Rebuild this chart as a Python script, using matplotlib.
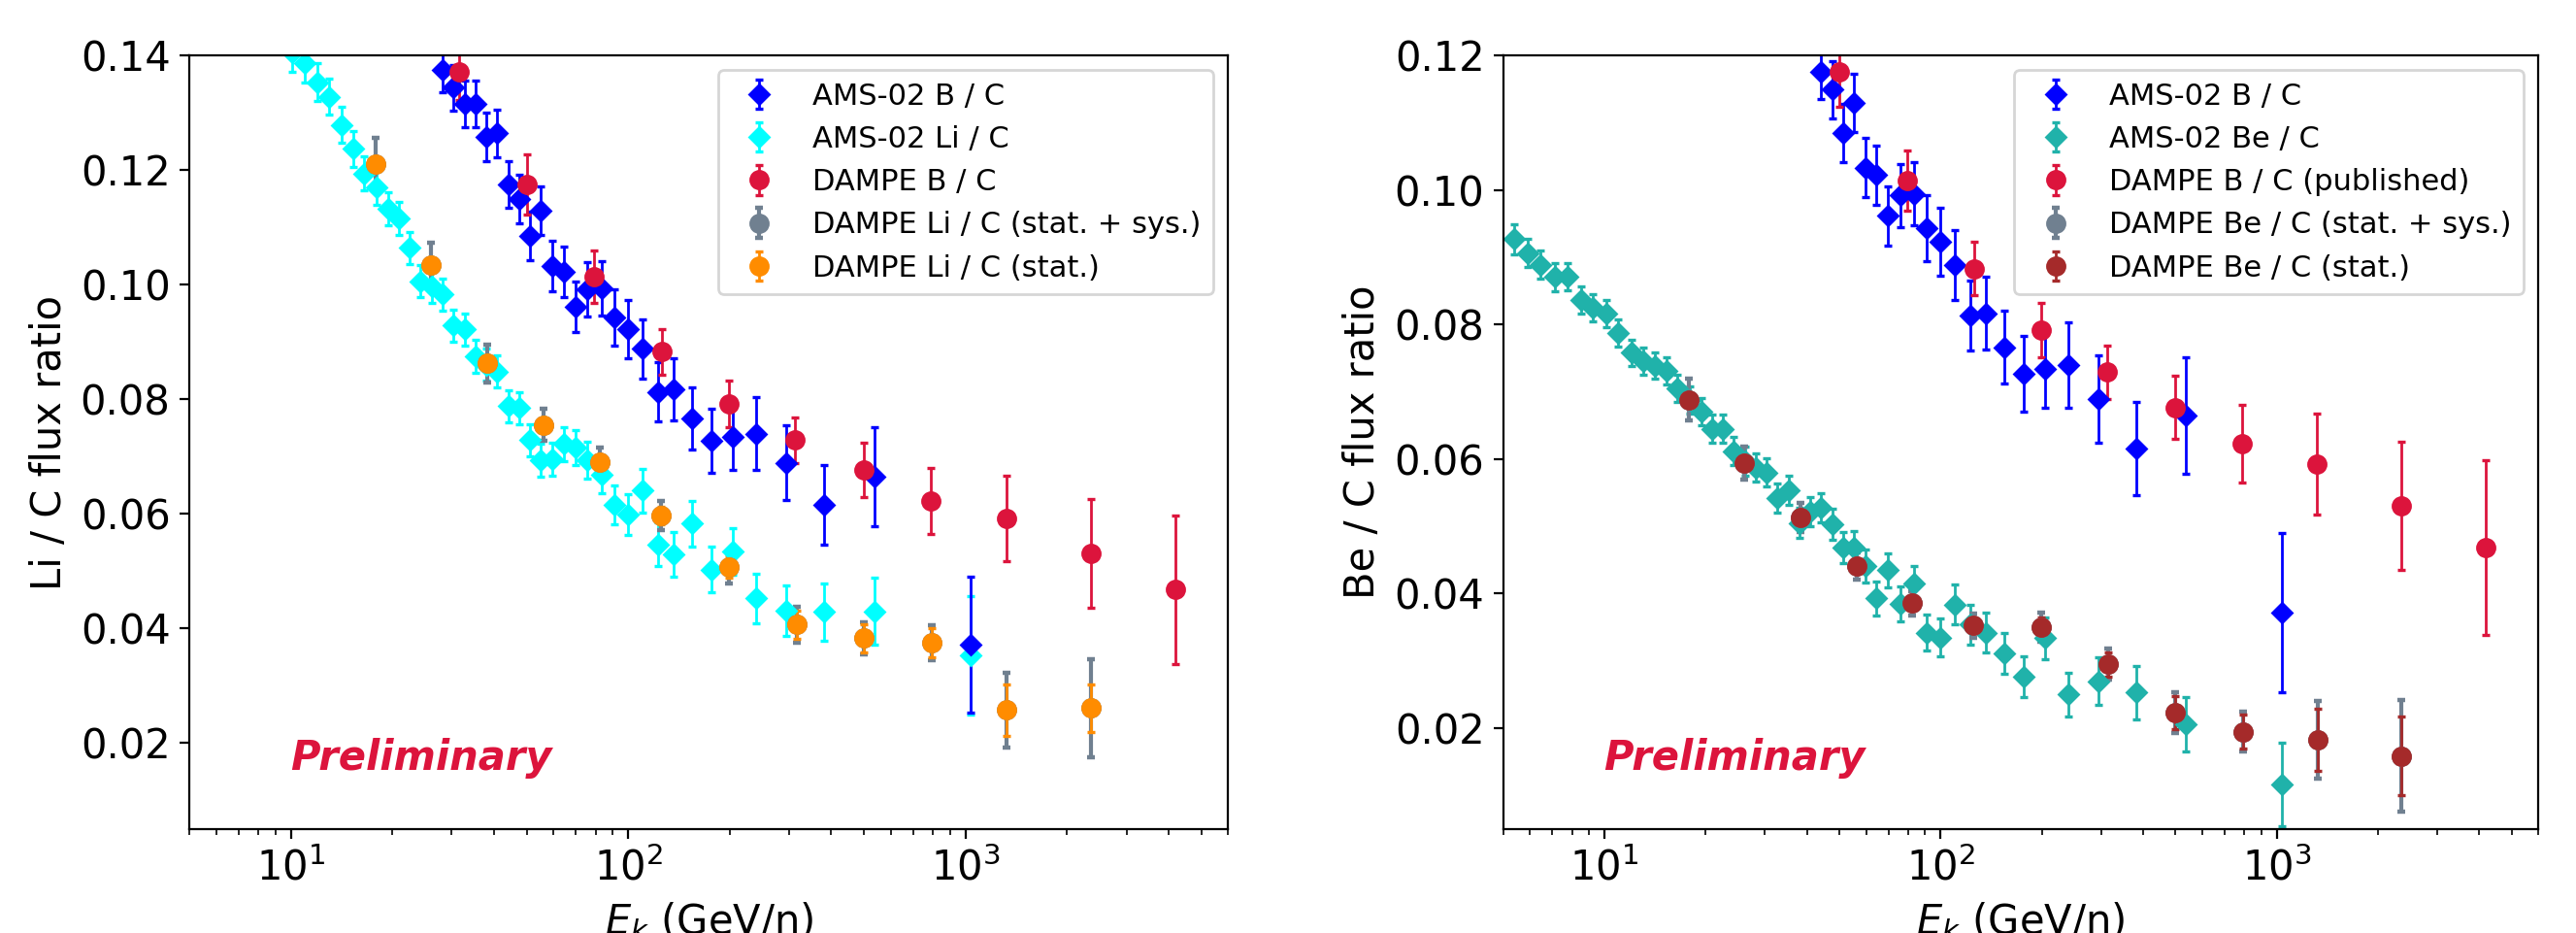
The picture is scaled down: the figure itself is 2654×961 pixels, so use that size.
import numpy as np
import matplotlib
matplotlib.use("Agg")
import matplotlib.pyplot as plt

# AMS-02 B/C (shared by both panels)
ams_bc_E = [28.2, 30.4, 32.7, 35.3, 38.0, 40.9, 44.1, 47.6, 51.2, 55.1, 59.6, 64.3, 69.7, 75.8,
            83.4, 90.9, 100.1, 110.4, 122.4, 136.5, 154.5, 176.3, 204.6, 239.9, 294.9, 381.6, 537, 1038]
ams_bc = [0.1375, 0.1344, 0.1315, 0.1315, 0.1258, 0.1264, 0.1175, 0.1149, 0.1085, 0.1129, 0.1033,
          0.1022, 0.0962, 0.0992, 0.0994, 0.0943, 0.0923, 0.0888, 0.0813, 0.0817, 0.0766, 0.0727,
          0.0734, 0.0740, 0.0689, 0.0616, 0.0665, 0.0372]
ams_bc_err = [0.0039, 0.0040, 0.0041, 0.0041, 0.0042, 0.0042, 0.0040, 0.0042, 0.0043, 0.0043, 0.0044,
              0.0044, 0.0044, 0.0047, 0.0047, 0.0049, 0.0051, 0.0052, 0.0052, 0.0054, 0.0054, 0.0056,
              0.0058, 0.0064, 0.0065, 0.0069, 0.0087, 0.0118]

# AMS-02 Li/C
ams_li_E = [10.1, 11.0, 12.0, 13.0, 14.1, 15.3, 16.5, 17.9, 19.4, 20.9, 22.5, 24.2, 26.2, 28.2,
            30.4, 32.7, 35.3, 38.0, 40.9, 44.1, 47.6, 51.2, 55.1, 59.6, 64.3, 69.7, 75.8, 83.4,
            90.9, 100.1, 110.4, 122.4, 136.5, 154.5, 176.3, 204.6, 239.9, 294.9, 381.6, 537, 1038]
ams_li = [0.1405, 0.1386, 0.1353, 0.1328, 0.1279, 0.1237, 0.1194, 0.1169, 0.1132, 0.1116, 0.1064,
          0.1006, 0.0997, 0.0983, 0.0929, 0.0922, 0.0875, 0.0860, 0.0848, 0.0788, 0.0785, 0.0729,
          0.0694, 0.0695, 0.0722, 0.0716, 0.0694, 0.0669, 0.0616, 0.0599, 0.0641, 0.0547, 0.0529,
          0.0583, 0.0503, 0.0535, 0.0453, 0.0432, 0.0429, 0.0430, 0.0353]
ams_li_err = [0.0034, 0.0033, 0.0033, 0.0032, 0.0031, 0.0031, 0.0030, 0.0030, 0.0029, 0.0029, 0.0028,
              0.0028, 0.0028, 0.0028, 0.0028, 0.0028, 0.0028, 0.0028, 0.0028, 0.0028, 0.0028, 0.0028,
              0.0029, 0.0029, 0.0030, 0.0031, 0.0032, 0.0033, 0.0034, 0.0036, 0.0038, 0.0038, 0.0039,
              0.0040, 0.0040, 0.0041, 0.0043, 0.0044, 0.0050, 0.0058, 0.0103]

# AMS-02 Be/C
ams_be_E = [5.37, 5.89, 6.45, 7.11, 7.75, 8.50, 9.25, 10.1, 11.0, 12.0, 13.0, 14.1, 15.3, 16.5,
            17.9, 19.4, 20.9, 22.5, 24.2, 26.2, 28.2, 30.4, 32.7, 35.3, 38.0, 40.9, 44.1, 47.6,
            51.2, 55.1, 59.6, 64.3, 69.7, 75.8, 83.4, 90.9, 100.1, 110.4, 122.4, 136.5, 154.5,
            176.3, 204.6, 239.9, 294.9, 381.6, 537, 1038]
ams_be = [0.0927, 0.0906, 0.0889, 0.0871, 0.0871, 0.0837, 0.0825, 0.0816, 0.0787, 0.0758, 0.0746,
          0.0739, 0.0731, 0.0705, 0.0688, 0.0671, 0.0645, 0.0645, 0.0612, 0.0597, 0.0587, 0.0580,
          0.0542, 0.0554, 0.0505, 0.0522, 0.0528, 0.0503, 0.0469, 0.0469, 0.0441, 0.0393, 0.0435,
          0.0385, 0.0415, 0.0342, 0.0335, 0.0384, 0.0354, 0.0342, 0.0311, 0.0277, 0.0334, 0.0250,
          0.0270, 0.0253, 0.0206, 0.0117]
ams_be_err = [0.0022, 0.0021, 0.0021, 0.0021, 0.0020, 0.0020, 0.0020, 0.0020, 0.0020, 0.0020, 0.0020,
              0.0020, 0.0020, 0.0020, 0.0020, 0.0020, 0.0021, 0.0021, 0.0021, 0.0021, 0.0021, 0.0021,
              0.0022, 0.0022, 0.0022, 0.0022, 0.0022, 0.0023, 0.0023, 0.0024, 0.0024, 0.0025, 0.0025,
              0.0026, 0.0026, 0.0027, 0.0028, 0.0030, 0.0030, 0.0030, 0.0030, 0.0030, 0.0031, 0.0033,
              0.0035, 0.0040, 0.0041, 0.0062]

# DAMPE B/C (published)
dampe_bc_E = [31.6, 50.1, 79.4, 125.6, 198.6, 313, 499, 790, 1320, 2350, 4184]
dampe_bc = [0.1372, 0.1175, 0.1014, 0.0883, 0.0792, 0.0729, 0.0677, 0.0623, 0.0592, 0.0531, 0.0468]
dampe_bc_err = [0.0050, 0.0052, 0.0045, 0.0040, 0.0040, 0.0040, 0.0047, 0.0058, 0.0075, 0.0095, 0.0130]

# DAMPE Li/C and Be/C (preliminary)
dampe_E = [17.8, 26.0, 38.3, 56.2, 82.5, 125.3, 198.6, 315.8, 500.4, 792, 1326, 2355]
dampe_li = [0.1210, 0.1034, 0.0863, 0.0755, 0.0690, 0.0597, 0.0507, 0.0407, 0.0383, 0.0375, 0.0258, 0.0261]
dampe_li_stat = [0.0010, 0.0010, 0.0011, 0.0012, 0.0013, 0.0015, 0.0019, 0.0025, 0.0024, 0.0025, 0.0045, 0.0042]
dampe_li_tot = [0.0046, 0.0039, 0.0033, 0.0028, 0.0026, 0.0025, 0.0028, 0.0031, 0.0028, 0.0031, 0.0065, 0.0085]
dampe_be = [0.0688, 0.0594, 0.0513, 0.0441, 0.0386, 0.0353, 0.0350, 0.0295, 0.0223, 0.0195, 0.0183, 0.0159]
dampe_be_stat = [0.0008, 0.0008, 0.0009, 0.0010, 0.0011, 0.0012, 0.0015, 0.0018, 0.0025, 0.0025, 0.0046, 0.0058]
dampe_be_tot = [0.0031, 0.0025, 0.0022, 0.0020, 0.0018, 0.0018, 0.0022, 0.0023, 0.0030, 0.0030, 0.0058, 0.0083]

fig = plt.figure(figsize=(13.27, 4.805), dpi=200)
ax1 = fig.add_axes([0.0735, 0.1113, 0.4032, 0.8293])
ax2 = fig.add_axes([0.5836, 0.1113, 0.4017, 0.8293])

eb = dict(capsize=1.4, capthick=1.2, elinewidth=1.0, linestyle='none')


def panel(ax, sec_E, sec, sec_err, sec_col, sec_lab, d, d_stat, d_tot, d_col, d_lab, bc_lab, ylab, ylim):
    h_sec = ax.errorbar(sec_E, sec, yerr=sec_err, fmt='D', ms=5, color=sec_col, **eb)
    h_bc = ax.errorbar(ams_bc_E, ams_bc, yerr=ams_bc_err, fmt='D', ms=5, color='blue', **eb)
    h_dbc = ax.errorbar(dampe_bc_E, dampe_bc, yerr=dampe_bc_err, fmt='o', ms=6.5, color='crimson', **eb)
    h_tot = ax.errorbar(dampe_E, d, yerr=d_tot, fmt='o', ms=6.5, color='slategray',
                        capsize=1.4, capthick=1.6, elinewidth=1.5, linestyle='none')
    h_stat = ax.errorbar(dampe_E, d, yerr=d_stat, fmt='o', ms=6.5, color=d_col, **eb)
    ax.set_xscale('log')
    ax.set_xlim(5, 6000)
    ax.set_ylim(*ylim)
    ax.set_xlabel(r'$E_k$ (GeV/n)', fontsize=15)
    ax.set_ylabel(ylab, fontsize=15)
    ax.tick_params(labelsize=15)
    ax.text(0.097, 0.0765, 'Preliminary', transform=ax.transAxes, fontsize=15,
            fontweight='bold', fontstyle='italic', color='crimson')
    ax.legend([h_bc, h_sec, h_dbc, h_tot, h_stat],
              ['AMS-02 B / C', sec_lab, bc_lab, d_lab + ' (stat. + sys.)', d_lab + ' (stat.)'],
              loc='upper right', fontsize=11)


panel(ax1, ams_li_E, ams_li, ams_li_err, 'cyan', 'AMS-02 Li / C',
      dampe_li, dampe_li_stat, dampe_li_tot, 'darkorange', 'DAMPE Li / C',
      'DAMPE B / C', 'Li / C flux ratio', (0.005, 0.14))
panel(ax2, ams_be_E, ams_be, ams_be_err, 'lightseagreen', 'AMS-02 Be / C',
      dampe_be, dampe_be_stat, dampe_be_tot, 'brown', 'DAMPE Be / C',
      'DAMPE B / C (published)', 'Be / C flux ratio', (0.005, 0.12))

fig.savefig('out.png', dpi=200)
